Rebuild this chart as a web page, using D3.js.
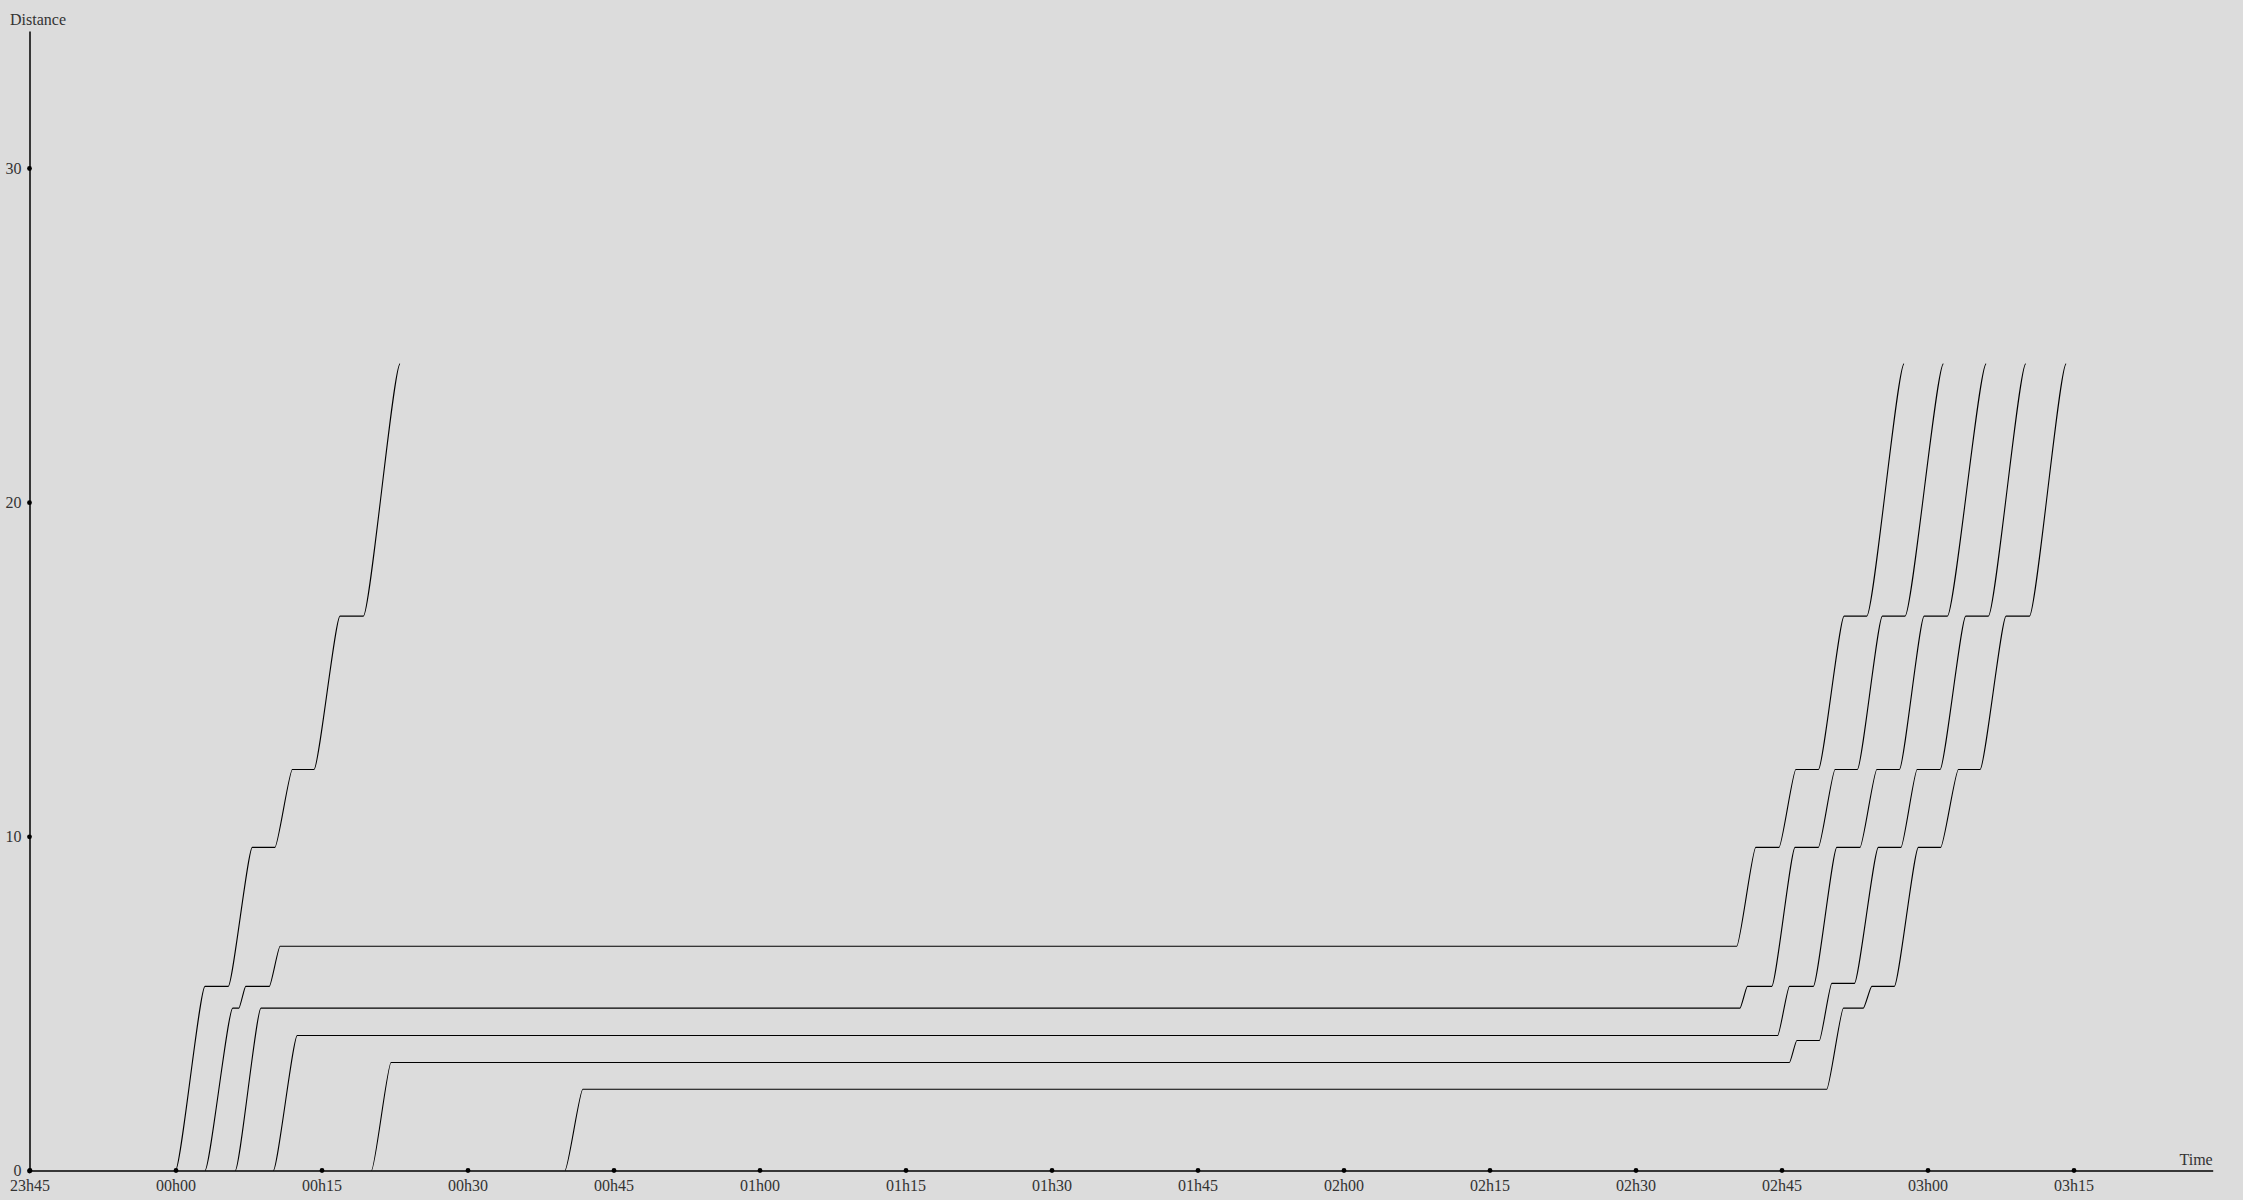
<!DOCTYPE html>
<html>
<head>
<meta charset="utf-8">
<script src="https://cdn.jsdelivr.net/npm/d3@7"></script>
<style>
  html, body { margin: 0; padding: 0; background: #dcdcdc; }
  svg { display: block; }
  .axis text, .label { font-family: "Liberation Serif", "Times New Roman", serif; font-size: 16px; fill: #333; }
  .axis path { stroke: #000; stroke-width: 1.5px; }
  .train { fill: none; stroke: #000; stroke-width: 1.1px; }
</style>
</head>
<body>
<svg id="chart"></svg>
<script>
/*
** Data: [minutes after 00h00, distance]
*/
var timeDomain = [-15, 224.3 - 15]   // 23h45 .. ~03h29
  , distanceDomain = [0, 34.1]
  , distanceTicks = [0, 10, 20, 30]
;
var trainA = [[0, 0], [3.03, 5.51], [5.42, 5.51], [7.89, 9.67], [10.22, 9.67], [12.0, 12.0],
      [14.23, 12.0], [16.9, 16.59], [19.3, 16.59], [23.07, 24.14]]
  , trainB = [[3.03, 0], [5.88, 4.86], [6.52, 4.86], [7.21, 5.51], [9.64, 5.51], [10.74, 6.71],
      [160.4, 6.71], [162.35, 9.67], [164.75, 9.67], [166.47, 12.0], [168.79, 12.0],
      [171.43, 16.59], [173.76, 16.59], [177.59, 24.14]]
  , trainC = [[6.14, 0], [8.78, 4.86], [160.74, 4.86], [161.49, 5.51], [164.0, 5.51],
      [166.39, 9.67], [168.79, 9.67], [170.5, 12.0], [172.79, 12.0], [175.36, 16.59],
      [177.69, 16.59], [181.63, 24.14]]
  , trainD = [[10.05, 0], [12.51, 4.04], [164.61, 4.04], [165.81, 5.51], [168.27, 5.51],
      [170.68, 9.67], [173.07, 9.67], [174.79, 12.0], [177.11, 12.0], [179.65, 16.59],
      [182.04, 16.59], [186.02, 24.14]]
  , trainE = [[20.14, 0], [22.14, 3.23], [165.81, 3.23], [166.57, 3.89], [168.89, 3.89],
      [170.16, 5.6], [172.49, 5.6], [174.95, 9.67], [177.28, 9.67], [178.93, 12.0],
      [181.29, 12.0], [183.93, 16.59], [186.25, 16.59], [190.09, 24.14]]
  , trainF = [[40.02, 0], [41.84, 2.43], [169.65, 2.43], [171.36, 4.86], [173.41, 4.86],
      [174.27, 5.51], [176.59, 5.51], [179.06, 9.67], [181.36, 9.67], [183.17, 12.0],
      [185.4, 12.0], [188.07, 16.59], [190.47, 16.59], [194.24, 24.14]]
  , trains = [trainA, trainB, trainC, trainD, trainE, trainF]
;

var width = 2243
  , height = 1200
  , origin = new Date(2024, 0, 2, 0, 0, 0)
  , at = function(m) { return new Date(origin.getTime() + m * 60000); }
;

var svg = d3.select("#chart")
    .attr("width", width)
    .attr("height", height)
;

var x = d3.scaleTime()
    .domain(timeDomain.map(at))
    .range([29.5, 2212.7])
  , y = d3.scaleLinear()
    .domain(distanceDomain)
    .range([1170.5, 31])
;

/*
** Train run curve: flat while stopped, eased cubic between stops
*/
function curveRun(context) {
    var x0, y0, started, k = 0.18;
    return {
        areaStart: function() {}
      , areaEnd: function() {}
      , lineStart: function() { started = false; }
      , lineEnd: function() {}
      , point: function(px, py) {
            if(!started) { context.moveTo(px, py); started = true; }
            else if(py === y0) context.lineTo(px, py);
            else {
                var dx = px - x0;
                context.bezierCurveTo(x0 + k * dx, y0, px - k * dx, py, px, py);
            }
            x0 = px; y0 = py;
        }
    };
} // curveRun()

var line = d3.line()
    .x(function(d) { return x(at(d[0])); })
    .y(function(d) { return y(d[1]); })
    .curve(curveRun)
;

svg.append("g")
    .attr("class", "trains")
  .selectAll("path")
    .data(trains)
  .enter().append("path")
    .attr("class", "train")
    .attr("d", line)
;

/*
** Axes
*/
var xAxis = d3.axisBottom(x)
    .ticks(d3.timeMinute.every(15))
    .tickFormat(d3.timeFormat("%Hh%M"))
    .tickSize(0)
    .tickSizeOuter(0)
    .tickPadding(9)
  , yAxis = d3.axisLeft(y)
    .tickValues(distanceTicks)
    .tickSize(0)
    .tickSizeOuter(0)
    .tickPadding(8)
;

var gx = svg.append("g")
    .attr("class", "axis x")
    .attr("transform", "translate(0," + y(0) + ")")
    .call(xAxis)
;
var gy = svg.append("g")
    .attr("class", "axis y")
    .attr("transform", "translate(" + x(at(timeDomain[0])) + ",0)")
    .call(yAxis)
;
[gx, gy].forEach(function(g) {
    g.attr("font-family", null).attr("font-size", null);
    g.selectAll(".tick").append("circle").attr("r", 2.4).attr("fill", "#000");
});

svg.append("text")
    .attr("class", "label")
    .attr("x", 10)
    .attr("y", 25)
    .text("Distance")
;
svg.append("text")
    .attr("class", "label")
    .attr("x", 2212.7)
    .attr("y", 1165)
    .attr("text-anchor", "end")
    .text("Time")
;
</script>
</body>
</html>
